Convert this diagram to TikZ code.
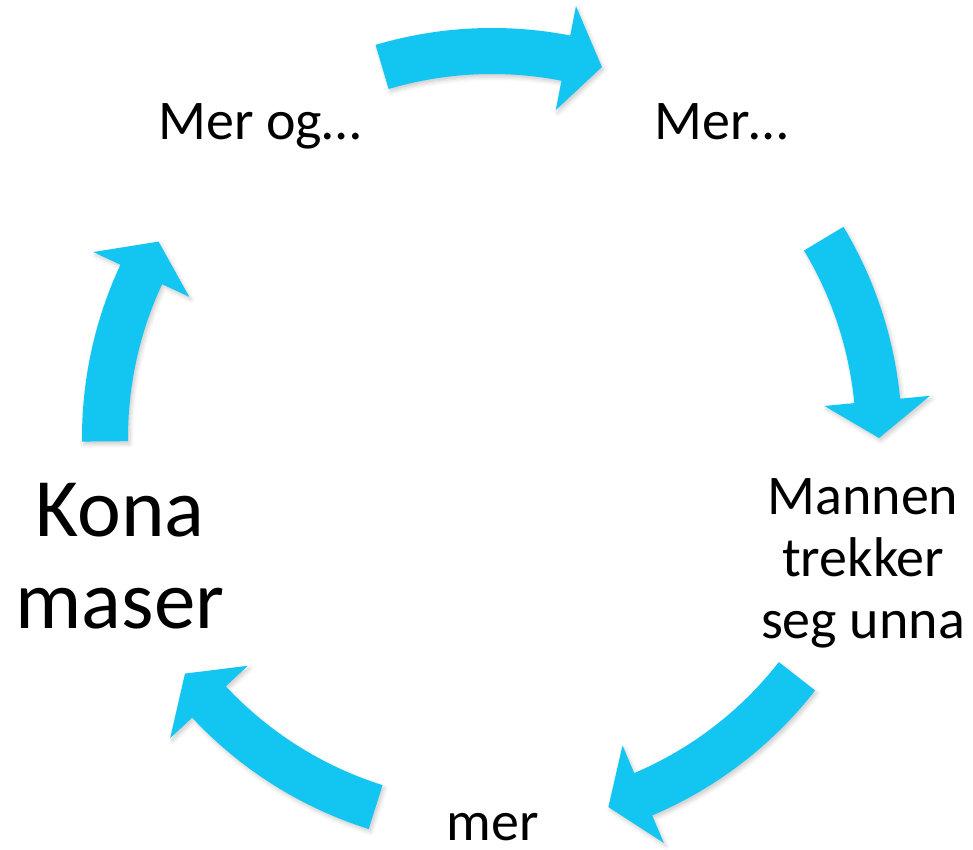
\documentclass[tikz,border=0pt]{standalone}
\usepackage{fontspec}
\setmainfont{Carlito}
\usetikzlibrary{shadows.blur}
\definecolor{arrowcyan}{RGB}{19,198,242}

\begin{document}
\begin{tikzpicture}[every node/.style = {align=center, inner sep=0pt},
    txt/.style = {font=\fontsize{56pt}{62pt}\selectfont},
    bigtxt/.style = {font=\fontsize{83pt}{92pt}\selectfont},
    cyclearrow/.style = {fill=arrowcyan, blur shadow={shadow xshift=2pt, shadow yshift=-3pt, shadow opacity=20, shadow blur radius=4pt}}]
  \useasboundingbox (-492pt,-412pt) rectangle (481pt,438pt);
  % labels round the cycle
  \node[txt, anchor=base] (merog) at (-232.5pt,298pt) {Mer og…};
  \node[txt, anchor=base] (merdots) at (229.5pt,298pt) {Mer…};
  \node[txt] (mannen) at (371pt,-125pt) {Mannen\\trekker\\seg unna};
  \node[txt, anchor=base] (mer) at (0.5pt,-402pt) {mer};
  \node[bigtxt] (kona) at (-372pt,-118.5pt) {Kona\\maser};
  % arrows: tail angle / tip angle
  \foreach \a/\b in {106.5/73.5, 31/0, -38/-72.5, 252.5/217.5, 180.5/149.5} {
    \pgfmathsetmacro{\c}{\b+5.5}
    \fill[cyclearrow] (\a:410pt) arc[start angle=\a, end angle=\c, radius=410pt]
      -- (\c:440pt) -- (\b:387pt) -- (\c:334pt) -- (\c:364pt)
      arc[start angle=\c, end angle=\a, radius=364pt] -- cycle;
  }
\end{tikzpicture}
\end{document}
